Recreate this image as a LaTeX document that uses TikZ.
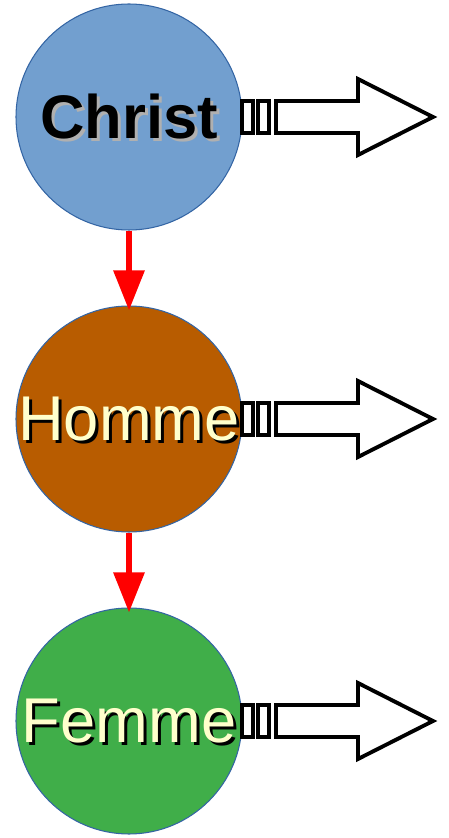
\documentclass[tikz,border=0pt]{standalone}
\usepackage{fontspec}
\setmainfont{Liberation Sans}
\usetikzlibrary{arrows.meta}

\definecolor{christblue}{RGB}{114,159,207}
\definecolor{hommebrown}{RGB}{184,92,0}
\definecolor{femmegreen}{RGB}{64,174,73}
\definecolor{rimblue}{RGB}{52,101,164}
\definecolor{cream}{RGB}{255,255,204}
\definecolor{shadowgray}{RGB}{176,176,176}

\tikzset{
	circ/.style={circle, draw=rimblue, line width=0.6pt, minimum size=4.52cm, inner sep=0pt},
	word/.style={anchor=center, inner sep=0pt, font=\fontsize{36}{42}\selectfont},
	descent/.style={-{Triangle[width=0.6cm,length=0.8cm]}, color=red, line width=3.4pt},
	blockarrow/.style={draw=black, fill=white, line width=2.2pt, line join=miter},
}

% striped block arrow to the right of a circle
\newcommand{\stripedarrow}[1]{%
	\begin{scope}[shift={(#1)}]
		\filldraw[blockarrow] (2.26,-0.32) rectangle (2.48,0.32);
		\filldraw[blockarrow] (2.58,-0.32) rectangle (2.80,0.32);
		\filldraw[blockarrow] (2.94,-0.32) -- (4.58,-0.32) -- (4.58,-0.76) -- (6.08,0)
			-- (4.58,0.76) -- (4.58,0.32) -- (2.94,0.32) -- cycle;
	\end{scope}}

\begin{document}
\begin{tikzpicture}
	
	\useasboundingbox (0,0) rectangle (8.98,16.76);
	
	%the three circles
	\node[circ, fill=christblue] (christ) at (2.58,14.42) {};
	\node[circ, fill=hommebrown] (homme) at (2.58,8.38) {};
	\node[circ, fill=femmegreen] (femme) at (2.58,2.34) {};
	
	%arrows going out to the right
	\stripedarrow{christ.center}
	\stripedarrow{homme.center}
	\stripedarrow{femme.center}
	
	%names with their shadows
	\node[word, font=\fontsize{35}{41}\selectfont, color=shadowgray] (christshadow) at ([shift={(0.06,-0.06)}]christ.center) {\textbf{Christ}};
	\node[word, font=\fontsize{35}{41}\selectfont, color=black] (christtext) at (christ.center) {\textbf{Christ}};
	
	\node[word, color=black] (hommeshadow) at ([shift={(0.06,-0.06)}]homme.center) {Homme};
	\node[word, color=cream] (hommetext) at (homme.center) {Homme};
	
	\node[word, color=black] (femmeshadow) at ([shift={(0.06,-0.06)}]femme.center) {Femme};
	\node[word, color=cream] (femmetext) at (femme.center) {Femme};
	
	%red arrows downwards
	\draw[descent] (christ.south) -- ([yshift=-0.1cm]homme.north);
	\draw[descent] (homme.south) -- ([yshift=-0.1cm]femme.north);
	
\end{tikzpicture}
\end{document}
